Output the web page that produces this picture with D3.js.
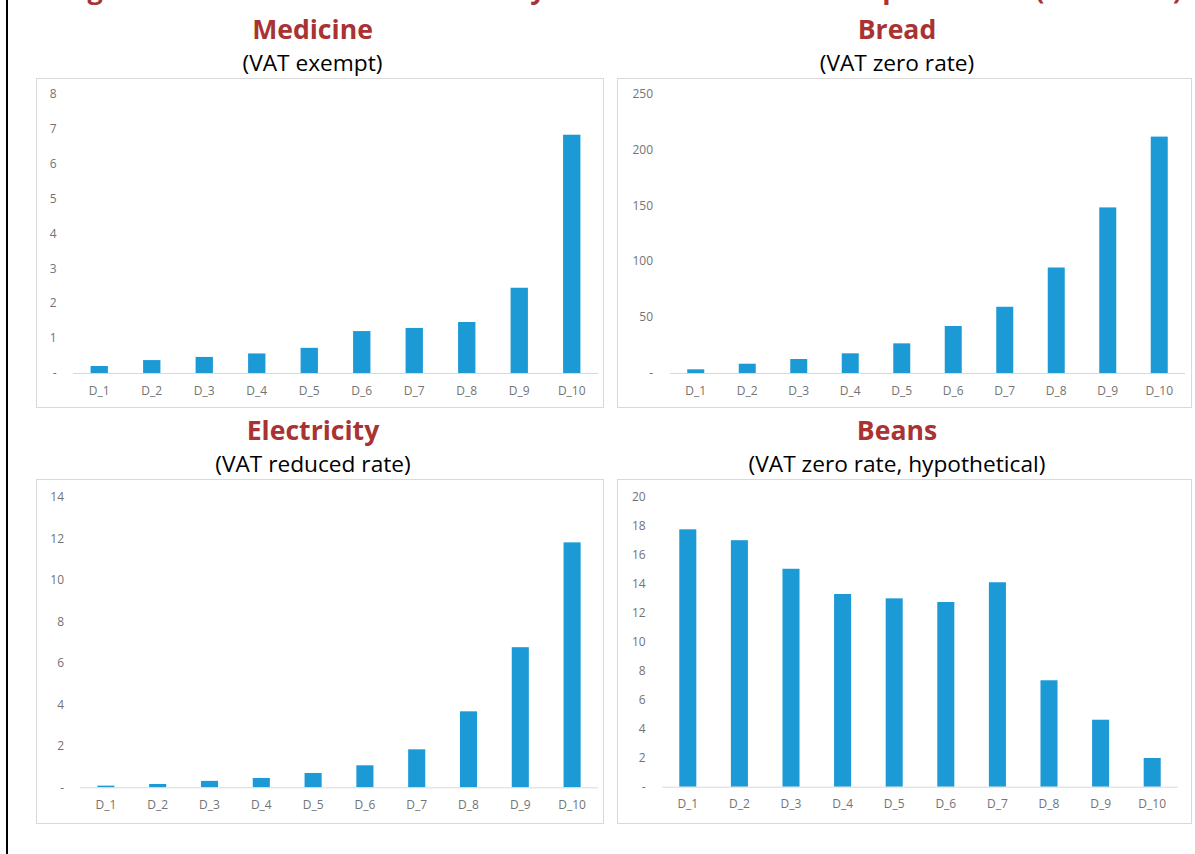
<!DOCTYPE html>
<html>
<head>
<meta charset="utf-8">
<script src="https://cdn.jsdelivr.net/npm/d3@7"></script>
<style>
  html, body { margin: 0; padding: 0; background: #fff; }
  svg { display: block; }
  .tick-label { font-family: "Open Sans", sans-serif; font-size: 12px; fill: #737373; }
  .panel-title { font-family: "Open Sans", sans-serif; font-weight: 700; font-size: 26.6px; fill: #A93333; }
  .panel-sub { font-family: "Open Sans", sans-serif; font-size: 22.7px; fill: #000; }
</style>
</head>
<body>
<script>
// Deciles of household expenditure
const deciles = ["D_1", "D_2", "D_3", "D_4", "D_5", "D_6", "D_7", "D_8", "D_9", "D_10"];

// Annual VAT relief per household, by decile
const medicine    = [0.20, 0.37, 0.46, 0.56, 0.72, 1.20, 1.29, 1.46, 2.44, 6.82];
const bread       = [3.3, 8.3, 12.5, 17.6, 26.5, 42.0, 59.2, 94.3, 148.0, 211.3];
const electricity = [0.08, 0.16, 0.31, 0.45, 0.69, 1.06, 1.83, 3.66, 6.75, 11.8];
const beans       = [17.75, 17.0, 15.03, 13.29, 12.99, 12.74, 14.1, 7.34, 4.62, 1.98];

// Y-axis tick values
const medicineTicks    = [0, 1, 2, 3, 4, 5, 6, 7, 8];
const breadTicks       = [0, 50, 100, 150, 200, 250];
const electricityTicks = [0, 2, 4, 6, 8, 10, 12, 14];
const beansTicks       = [0, 2, 4, 6, 8, 10, 12, 14, 16, 18, 20];

// Headings
const figureHeading = "Figure 2: Benefit of VAT reliefs by decile of household expenditure (£ million)";
const titles    = ["Medicine", "Bread", "Electricity", "Beans"];
const subtitles = ["(VAT exempt)", "(VAT zero rate)", "(VAT reduced rate)", "(VAT zero rate, hypothetical)"];

const W = 1195, H = 854;
const barColor = "#1C9AD6";
const frameColor = "#D9D9D9";

const svg = d3.select("body").append("svg").attr("width", W).attr("height", H);

// Left rule of the page
svg.append("rect").attr("x", 6).attr("y", 0).attr("width", 2).attr("height", H).attr("fill", "#000");

// Figure heading, running off the top edge of the page
svg.append("text")
  .attr("x", 62).attr("y", -1)
  .attr("class", "panel-title")
  .style("font-size", "27px")
  .attr("textLength", 1120)
  .attr("lengthAdjust", "spacing")
  .text(figureHeading);

const panels = [
  { values: medicine, ticks: medicineTicks, max: 8,
    frame: [36, 78, 603, 407], xr: [73, 598], yr: [373, 93.5], labelX: 56.5, titleX: 312.5, titleY: 39, subY: 71 },
  { values: bread, ticks: breadTicks, max: 250,
    frame: [617, 78, 1191, 407], xr: [670, 1185], yr: [373, 93.3], labelX: 653, titleX: 897, titleY: 39, subY: 71 },
  { values: electricity, ticks: electricityTicks, max: 14,
    frame: [36, 479, 603, 823], xr: [80, 598], yr: [787.3, 496.7], labelX: 64, titleX: 313, titleY: 440, subY: 472 },
  { values: beans, ticks: beansTicks, max: 20,
    frame: [617, 479, 1191, 823], xr: [662, 1178], yr: [786.7, 496.7], labelX: 645.7, titleX: 897, titleY: 440, subY: 472 }
];

panels.forEach((p, i) => {
  const g = svg.append("g");

  // chart frame
  g.append("rect")
    .attr("x", p.frame[0] + 0.5).attr("y", p.frame[1] + 0.5)
    .attr("width", p.frame[2] - p.frame[0]).attr("height", p.frame[3] - p.frame[1])
    .attr("fill", "none").attr("stroke", frameColor).attr("stroke-width", 1);

  // titles
  g.append("text").attr("class", "panel-title")
    .attr("x", p.titleX).attr("y", p.titleY).attr("text-anchor", "middle").text(titles[i]);
  g.append("text").attr("class", "panel-sub")
    .attr("x", p.titleX).attr("y", p.subY).attr("text-anchor", "middle").text(subtitles[i]);

  const x = d3.scaleBand().domain(deciles).range(p.xr).paddingInner(0.67).paddingOuter(0.335);
  const y = d3.scaleLinear().domain([0, p.max]).range(p.yr);

  // bars
  g.selectAll("rect.bar").data(p.values).join("rect")
    .attr("class", "bar")
    .attr("x", (d, j) => x(deciles[j]))
    .attr("width", x.bandwidth())
    .attr("y", d => y(d))
    .attr("height", d => y(0) - y(d))
    .attr("fill", barColor);

  // category axis
  const xAxis = d3.axisBottom(x).tickSize(0).tickPadding(13);
  const xg = g.append("g").attr("transform", `translate(0,${y(0)})`).call(xAxis);
  xg.select(".domain").attr("stroke", frameColor).attr("d", `M${p.xr[0]},0.5H${p.xr[1]}`);
  xg.selectAll("text").attr("class", "tick-label").attr("fill", null);

  // value axis (labels only)
  const yAxis = d3.axisLeft(y).tickValues(p.ticks).tickSize(0)
    .tickFormat(d => d === 0 ? "-" : d3.format("d")(d));
  const yg = g.append("g").attr("transform", `translate(${p.labelX},0)`).call(yAxis);
  yg.select(".domain").remove();
  yg.selectAll("text").attr("class", "tick-label").attr("fill", null).attr("x", 0);
});
</script>
</body>
</html>
